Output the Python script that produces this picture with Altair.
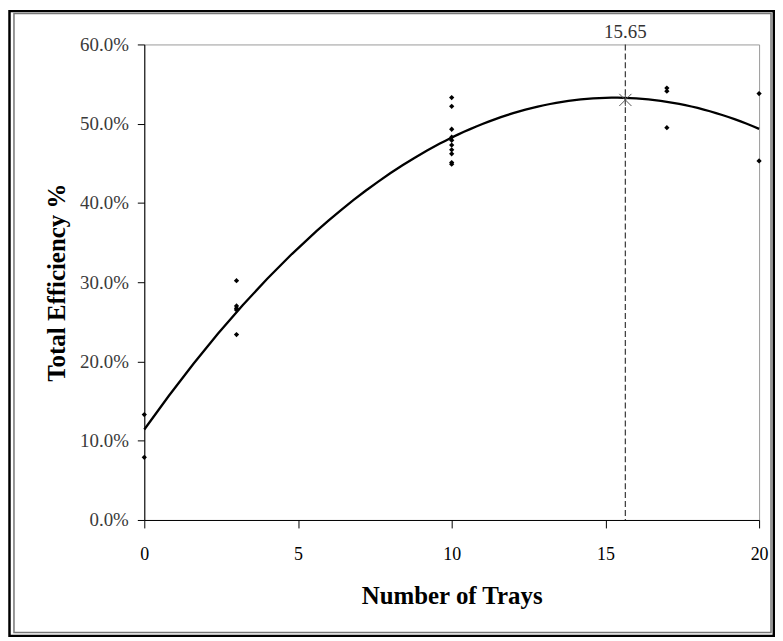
import altair as alt
import pandas as pd

trays = [0, 0,
         3, 3, 3, 3, 3,
         10, 10, 10, 10, 10, 10, 10, 10, 10, 10,
         17, 17, 17,
         20, 20]
efficiency = [0.133, 0.079,
              0.302, 0.270, 0.267, 0.265, 0.234,
              0.533, 0.522, 0.493, 0.483, 0.479, 0.473, 0.467, 0.462, 0.451, 0.449,
              0.545, 0.541, 0.495,
              0.538, 0.453]

peak_x = [15.65]
peak_y = [0.530]
peak_label = ["15.65"]

x_ticks = [0, 5, 10, 15, 20]
y_ticks = [0.0, 0.1, 0.2, 0.3, 0.4, 0.5, 0.6]

df = pd.DataFrame({"trays": trays, "eff": efficiency})
peak = pd.DataFrame({"trays": peak_x, "eff": peak_y, "label": peak_label})
one = pd.DataFrame({"k": [0]})

SERIF = "Liberation Serif"

xscale = alt.Scale(domain=[0, 20], nice=False, zero=False)
yscale = alt.Scale(domain=[0, 0.6], nice=False)

xenc = alt.X("trays:Q", scale=xscale,
             axis=alt.Axis(title="Number of Trays", values=x_ticks, format="d",
                           grid=False, tickSize=8, labelPadding=18,
                           titlePadding=20, labelFlush=False,
                           labelFont=SERIF, labelFontSize=18, labelColor="black",
                           titleFont=SERIF, titleFontSize=25, titleFontWeight="bold",
                           titleColor="black", domainColor="black", tickColor="black"))
yenc = alt.Y("eff:Q", scale=yscale,
             axis=alt.Axis(title="Total Efficiency %", values=y_ticks, format=".1%",
                           grid=False, tickSize=7, labelPadding=9,
                           titlePadding=10, labelFlush=False,
                           labelFont=SERIF, labelFontSize=19, labelColor="#3a3a3a",
                           titleFont=SERIF, titleFontSize=25, titleFontWeight="bold",
                           titleColor="black", domainColor="black", tickColor="black"))

points = alt.Chart(df).mark_point(shape="diamond", filled=True, color="black",
                                  size=28, opacity=1).encode(x=xenc, y=yenc)

curve = alt.Chart(df).transform_regression(
    "trays", "eff", method="poly", order=2, extent=[0, 20]
).mark_line(color="black", strokeWidth=2.3).encode(
    x=alt.X("trays:Q", scale=xscale), y=alt.Y("eff:Q", scale=yscale))

vline = alt.Chart(peak).mark_rule(color="#444444", strokeDash=[6, 3],
                                  strokeWidth=1.3).encode(
    x=alt.X("trays:Q", scale=xscale), y=alt.value(0), y2=alt.value(478))

star = alt.Chart(peak).mark_point(
    shape="M-1,-1L1,1M-1,1L1,-1M0,-1L0,1", filled=False, color="#555555",
    size=150, strokeWidth=1, opacity=1).encode(
    x=alt.X("trays:Q", scale=xscale), y=alt.Y("eff:Q", scale=yscale))

toplabel = alt.Chart(peak).mark_text(font=SERIF, fontSize=19, color="#333333",
                                     baseline="alphabetic").encode(
    x=alt.X("trays:Q", scale=xscale), y=alt.value(-6), text="label:N")

inner_frame = alt.Chart(one).mark_rect(fill=None, stroke="#777777",
                                       strokeWidth=1.5).encode(
    x=alt.value(-131), x2=alt.value(630), y=alt.value(-31), y2=alt.value(591))
outer_frame = alt.Chart(one).mark_rect(fill=None, stroke="black",
                                       strokeWidth=2.5).encode(
    x=alt.value(-135.5), x2=alt.value(632.8), y=alt.value(-33.5), y2=alt.value(594.5))

chart = alt.layer(outer_frame, inner_frame, vline, curve, points, star, toplabel).properties(
    width=618, height=478,
    background="white",
    autosize=alt.AutoSizeParams(type="none"),
    padding={"left": 137, "top": 35, "right": 16, "bottom": 118},
).configure_view(stroke="#999999", strokeWidth=1).configure_axis(
    domainColor="black", domainWidth=1, tickColor="black", tickWidth=1,
)

chart.save("out.html", embed_options={"renderer": "svg", "actions": False})
